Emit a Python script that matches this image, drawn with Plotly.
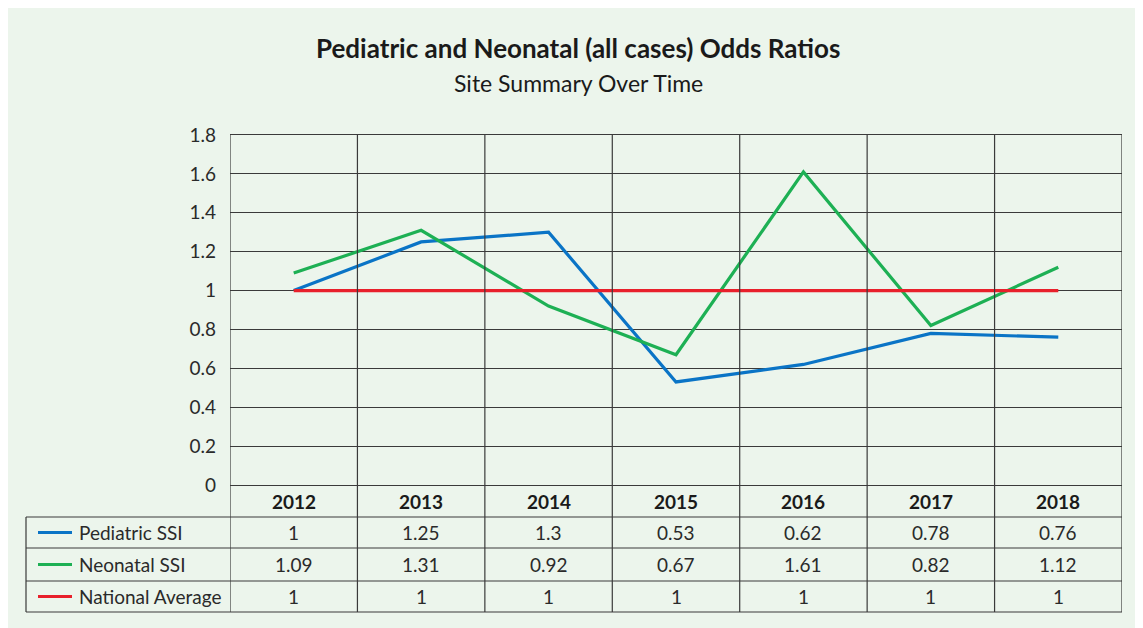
import plotly.graph_objects as go

# ---------------- data ----------------
years = ["2012", "2013", "2014", "2015", "2016", "2017", "2018"]
pediatric = [1, 1.25, 1.3, 0.53, 0.62, 0.78, 0.76]
neonatal = [1.09, 1.31, 0.92, 0.67, 1.61, 0.82, 1.12]
national = [1, 1, 1, 1, 1, 1, 1]
series_names = ["Pediatric SSI", "Neonatal SSI", "National Average"]
series_values = [pediatric, neonatal, national]
series_colors = ["#0A74C6", "#1DB054", "#E8202B"]
y_ticks = [0, 0.2, 0.4, 0.6, 0.8, 1, 1.2, 1.4, 1.6, 1.8]

title = "Pediatric and Neonatal (all cases) Odds Ratios"
subtitle = "Site Summary Over Time"

# ---------------- layout geometry (screen pixels) ----------------
PAGE_W, PAGE_H = 1143, 628
BODY = 8                           # browser default body margin
W, H = PAGE_W - BODY, PAGE_H - BODY
L, R, T, B = 230, 1122, 135, 485   # plot area in screen pixels
FONT = "Lato"
BG = "#ECF5EC"
GRID = "#3a3a3a"


def px(x):
    return (x - L) / (R - L)


def py(y):
    return (B - y) / (B - T)


fig = go.Figure()

for name, vals, col in zip(series_names, series_values, series_colors):
    fig.add_trace(go.Scatter(
        x=list(range(len(years))), y=vals, mode="lines", name=name,
        line=dict(color=col, width=3.2), showlegend=False,
    ))

shapes = []
row_edges = [517, 548, 581, 612]
table_left = 26
legend_x0, legend_x1, label_x = 38, 72, 77

# vertical category lines (through the plot and the table)
for i in range(len(years) + 1):
    shapes.append(dict(type="line", xref="x", yref="paper",
                       x0=i - 0.5, x1=i - 0.5, y0=py(row_edges[-1]), y1=1,
                       line=dict(color=GRID, width=1.2)))
# left table border
shapes.append(dict(type="line", xref="paper", yref="paper",
                   x0=px(table_left), x1=px(table_left),
                   y0=py(row_edges[0]), y1=py(row_edges[-1]),
                   line=dict(color=GRID, width=1.2)))
# horizontal table rules
for ye in row_edges:
    shapes.append(dict(type="line", xref="paper", yref="paper",
                       x0=px(table_left), x1=1, y0=py(ye), y1=py(ye),
                       line=dict(color=GRID, width=1.2)))

annotations = []
annotations.append(dict(text="<b>" + title + "</b>", xref="paper", yref="paper",
                        x=px(578), y=py(48), showarrow=False,
                        font=dict(family=FONT, size=26, color="#1a1a1a"),
                        xanchor="center", yanchor="middle"))
annotations.append(dict(text=subtitle, xref="paper", yref="paper",
                        x=px(578), y=py(83), showarrow=False,
                        font=dict(family=FONT, size=23, color="#1a1a1a"),
                        xanchor="center", yanchor="middle"))

# year header row
for i, yr in enumerate(years):
    annotations.append(dict(text="<b>" + yr + "</b>", xref="x", yref="paper",
                            x=i, y=py(501), showarrow=False,
                            font=dict(family=FONT, size=19, color="#1a1a1a"),
                            xanchor="center", yanchor="middle"))

# data rows
for r, (name, vals, col) in enumerate(zip(series_names, series_values, series_colors)):
    yc = (row_edges[r] + row_edges[r + 1]) / 2
    shapes.append(dict(type="line", xref="paper", yref="paper",
                       x0=px(legend_x0), x1=px(legend_x1), y0=py(yc), y1=py(yc),
                       line=dict(color=col, width=3.2)))
    annotations.append(dict(text=name, xref="paper", yref="paper",
                            x=px(label_x), y=py(yc), showarrow=False,
                            font=dict(family=FONT, size=19, color="#2a2a2a"),
                            xanchor="left", yanchor="middle"))
    for i, v in enumerate(vals):
        annotations.append(dict(text=f"{v:g}", xref="x", yref="paper",
                                x=i, y=py(yc), showarrow=False,
                                font=dict(family=FONT, size=19, color="#2a2a2a"),
                                xanchor="center", yanchor="middle"))

fig.update_layout(
    width=W, height=H,
    margin=dict(l=L - BODY, r=PAGE_W - R, t=T - BODY, b=PAGE_H - B, pad=0),
    paper_bgcolor=BG,
    plot_bgcolor=BG,
    shapes=shapes,
    annotations=annotations,
    xaxis=dict(range=[-0.5, len(years) - 0.5],
               showgrid=False, zeroline=False, showticklabels=False,
               showline=True, linecolor=GRID, linewidth=1.2, mirror=True,
               fixedrange=True),
    yaxis=dict(range=[0, 1.8], tickvals=y_ticks,
               ticktext=[f"{v:g}" for v in y_ticks],
               showgrid=True, gridcolor=GRID, gridwidth=1.2,
               zeroline=False, showline=False, ticks="",
               ticklabelstandoff=13,
               tickfont=dict(family=FONT, size=19, color="#2a2a2a"),
               fixedrange=True),
    font=dict(family=FONT),
)

fig.write_html("out.html")
